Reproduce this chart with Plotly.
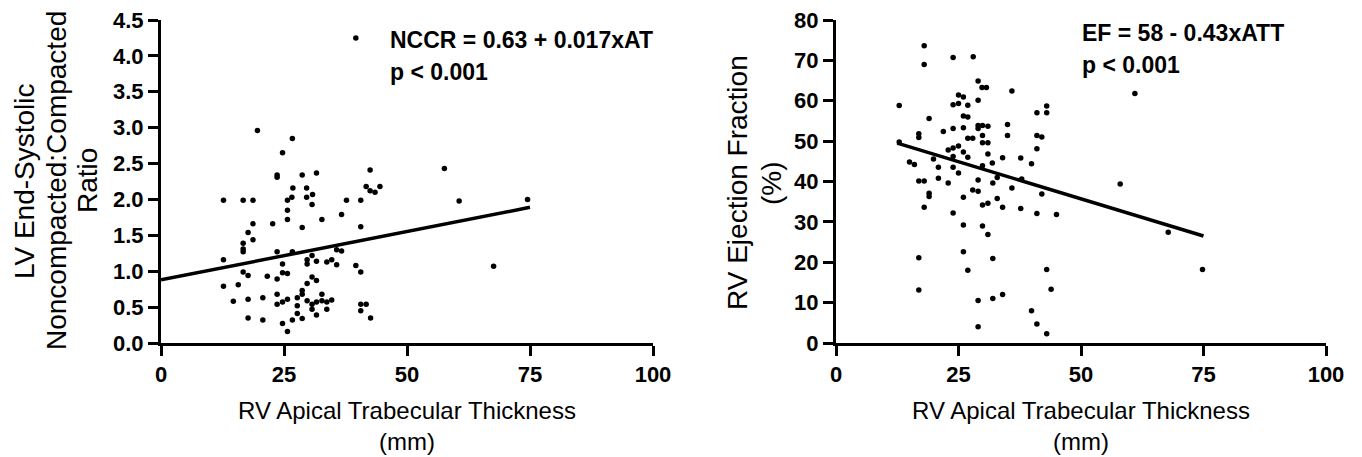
import plotly.graph_objects as go

# left panel: RV apical trabecular thickness (mm) vs LV NC:C ratio
nccr_att = [39.6, 19.6, 26.7, 24.7, 23.6, 23.6, 28.7, 31.6, 42.5, 41.7, 42.5, 43.5, 44.5,
            26.8, 29.6, 29.6, 30.8, 30.7, 25.7, 26.6, 12.7, 16.7, 18.7, 37.7, 40.6, 25.7,
            25.7, 32.7, 36.7, 18.7, 22.7, 17.7, 28.7, 40.6, 18.7, 16.7, 16.7, 16.7, 12.7,
            23.6, 26.7, 30.7, 29.7, 29.7, 31.6, 33.7, 34.7, 35.7, 35.7, 36.7, 24.7, 24.7,
            25.7, 16.7, 17.7, 21.6, 23.6, 30.7, 31.6, 29.7, 12.7, 15.7, 39.6, 40.6, 28.7,
            28.7, 23.6, 14.7, 17.7, 20.7, 23.6, 24.7, 25.7, 27.7, 27.7, 29.7, 30.7, 31.6,
            32.7, 32.7, 33.7, 34.7, 30.7, 33.7, 40.6, 41.7, 40.6, 27.7, 31.6, 17.7, 20.7,
            26.7, 28.7, 42.6, 24.7, 25.7, 57.6, 60.6, 74.5, 67.6]
nccr = [4.25, 2.96, 2.85, 2.65, 2.34, 2.31, 2.34, 2.37, 2.41, 2.18, 2.12, 2.10, 2.18,
        2.16, 2.16, 2.03, 2.07, 1.93, 1.99, 2.03, 1.99, 1.99, 1.99, 1.99, 1.99, 1.85,
        1.72, 1.72, 1.79, 1.66, 1.66, 1.54, 1.61, 1.62, 1.44, 1.39, 1.31, 1.27, 1.16,
        1.27, 1.27, 1.22, 1.16, 1.10, 1.14, 1.13, 1.16, 1.09, 1.30, 1.28, 1.10, 0.98,
        0.97, 0.99, 0.94, 0.93, 0.89, 0.92, 0.87, 0.83, 0.79, 0.81, 1.08, 0.99, 0.73,
        0.68, 0.68, 0.58, 0.61, 0.63, 0.54, 0.57, 0.61, 0.63, 0.52, 0.59, 0.54, 0.57,
        0.68, 0.59, 0.57, 0.60, 0.47, 0.47, 0.54, 0.54, 0.45, 0.41, 0.39, 0.35, 0.32,
        0.32, 0.34, 0.35, 0.27, 0.16, 2.43, 1.98, 2.00, 1.07]
nccr_fit_x = [0, 75]
nccr_fit_y = [0.88, 1.89]

# right panel: RV apical trabecular thickness (mm) vs RV EF (%)
ef_att = [18.0, 18.0, 23.9, 28.0, 29.0, 29.8, 30.7, 35.9, 25.0, 26.0, 29.0, 23.9, 25.0,
          26.9, 12.9, 43.0, 43.0, 41.0, 26.0, 26.9, 19.0, 29.0, 29.9, 31.0, 29.0, 35.0,
          23.9, 26.0, 21.9, 16.9, 16.9, 29.9, 35.0, 26.9, 27.9, 41.0, 42.0, 12.9, 29.9,
          31.0, 25.0, 23.9, 22.9, 41.0, 26.0, 26.9, 31.0, 23.9, 34.0, 37.7, 19.9, 15.0,
          16.0, 20.9, 23.9, 29.9, 31.9, 39.9, 25.0, 32.9, 29.0, 16.9, 18.0, 20.9, 22.9,
          32.0, 37.9, 19.0, 19.0, 27.9, 29.0, 35.9, 42.0, 26.0, 32.9, 18.0, 29.9, 31.0,
          34.0, 37.7, 41.0, 45.0, 23.9, 26.0, 29.9, 31.0, 16.9, 26.0, 32.0, 26.9, 43.0,
          16.9, 43.9, 34.0, 32.0, 29.0, 39.9, 41.0, 29.0, 43.0, 61.0, 58.0, 67.8, 74.8]
ef = [73.6, 69.0, 70.7, 70.9, 64.9, 63.3, 63.3, 62.4, 61.4, 60.9, 60.1, 59.0, 59.3,
      58.9, 58.8, 58.7, 57.0, 57.0, 56.2, 56.0, 55.6, 53.9, 53.9, 53.7, 53.1, 54.1,
      53.1, 53.3, 52.4, 51.8, 50.9, 51.4, 51.4, 50.7, 50.7, 51.4, 51.0, 49.8, 49.6,
      49.6, 48.8, 48.3, 47.8, 48.1, 47.3, 46.0, 46.8, 46.2, 45.9, 45.8, 45.6, 44.8,
      44.2, 43.5, 43.5, 43.9, 44.6, 44.4, 42.1, 41.0, 40.4, 40.1, 40.1, 40.8, 39.6,
      39.6, 40.6, 37.1, 36.3, 37.9, 37.6, 38.4, 36.9, 36.1, 35.8, 33.6, 34.2, 34.6,
      33.6, 33.3, 32.1, 31.8, 32.2, 29.2, 29.0, 26.9, 21.1, 22.6, 20.9, 18.0, 18.2,
      13.1, 13.3, 12.0, 11.0, 10.5, 8.0, 4.7, 4.0, 2.3, 61.8, 39.4, 27.4, 18.2]
ef_fit_x = [12.5, 75]
ef_fit_y = [49.5, 26.5]

x_ticks = [0, 25, 50, 75, 100]
nccr_ticks = [0.0, 0.5, 1.0, 1.5, 2.0, 2.5, 3.0, 3.5, 4.0, 4.5]
ef_ticks = [0, 10, 20, 30, 40, 50, 60, 70, 80]

# full-window figure; body margin is zeroed by the post script below
W, H = 1362, 457
FONT = "Liberation Sans, Arial, sans-serif"


def px(x):
    return x / W


def py(y):
    return 1 - y / H


fig = go.Figure()
fig.add_trace(go.Scatter(x=nccr_att, y=nccr, mode="markers",
                         marker=dict(color="black", size=5.5), xaxis="x", yaxis="y"))
fig.add_trace(go.Scatter(x=nccr_fit_x, y=nccr_fit_y, mode="lines",
                         line=dict(color="black", width=3.5), xaxis="x", yaxis="y"))
fig.add_trace(go.Scatter(x=ef_att, y=ef, mode="markers",
                         marker=dict(color="black", size=5.5), xaxis="x2", yaxis="y2"))
fig.add_trace(go.Scatter(x=ef_fit_x, y=ef_fit_y, mode="lines",
                         line=dict(color="black", width=3.5), xaxis="x2", yaxis="y2"))

ax = dict(showgrid=False, zeroline=False, showline=True, linecolor="black", linewidth=3,
          ticks="outside", ticklen=10, tickwidth=3, tickcolor="black",
          tickfont=dict(family=FONT, size=22, color="black", weight="bold"))

ydom = [py(343), py(20)]
fig.update_layout(
    width=W, height=H, margin=dict(l=0, r=0, t=0, b=0, autoexpand=False),
    paper_bgcolor="white", plot_bgcolor="white", showlegend=False,
    xaxis=dict(ax, domain=[px(161), px(653)], range=[0, 100], tickvals=x_ticks,
               anchor="y"),
    yaxis=dict(ax, domain=ydom, range=[0, 4.5], tickvals=nccr_ticks, tickformat=".1f",
               anchor="x"),
    xaxis2=dict(ax, domain=[px(836), px(1326)], range=[0, 100], tickvals=x_ticks,
                anchor="y2"),
    yaxis2=dict(ax, domain=ydom, range=[0, 80], tickvals=ef_ticks, anchor="x2"),
)


def txt(x, y, s, size, angle=0, bold=False, xanchor="center", yanchor="middle"):
    fig.add_annotation(x=px(x), y=py(y), xref="paper", yref="paper", text=s,
                       showarrow=False, textangle=angle, xanchor=xanchor, yanchor=yanchor,
                       font=dict(family=FONT, size=size, color="black",
                                 weight="bold" if bold else "normal"))


# x axis titles (two lines, sitting on the bottom edge)
for cx in (407, 1081):
    txt(cx, 457, "RV Apical Trabecular Thickness<br>(mm)", 24, yanchor="bottom")

# y axis titles
txt(24, 181, "LV End-Systolic", 28, -90)
txt(56, 181, "Noncompacted:Compacted", 28, -90)
txt(87, 181, "Ratio", 28, -90)
txt(738, 183, "RV Ejection Fraction", 28, -90)
txt(772, 183, "(%)", 28, -90)

# regression equations
txt(388, 40, "NCCR = 0.63 + 0.017xAT", 23, bold=True, xanchor="left")
txt(388, 72, "p < 0.001", 23, bold=True, xanchor="left")
txt(1080, 33, "EF = 58 - 0.43xATT", 23, bold=True, xanchor="left")
txt(1080, 65, "p < 0.001", 23, bold=True, xanchor="left")

fig.write_html("out.html", config={"displayModeBar": False},
               post_script="document.body.style.margin='0';")
